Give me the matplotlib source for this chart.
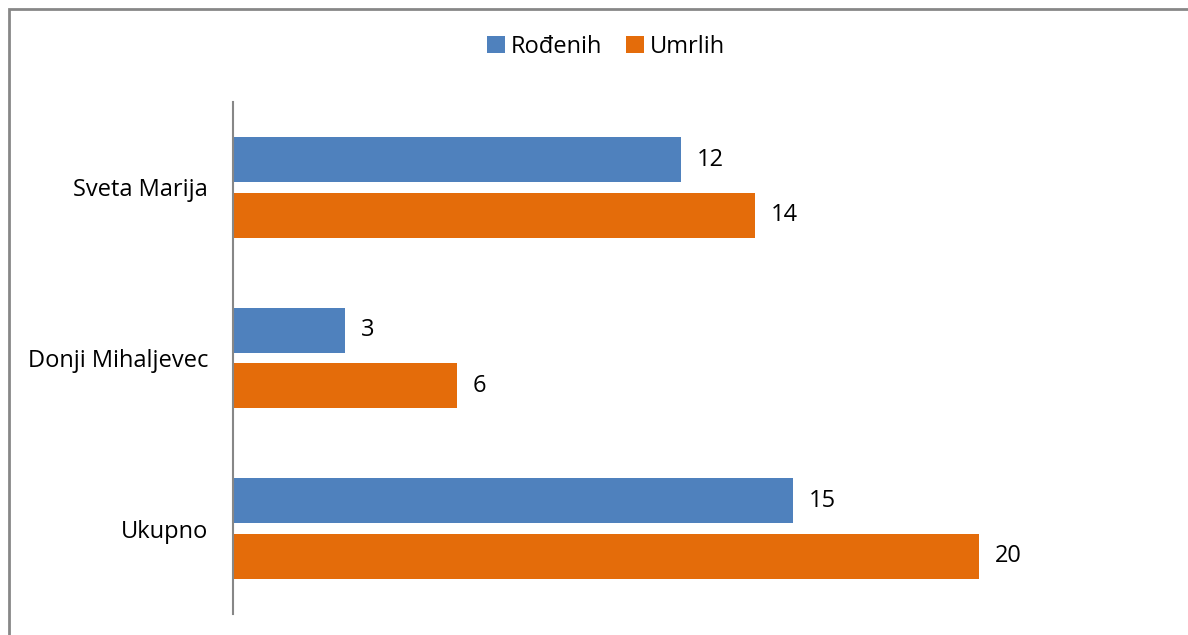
import matplotlib
matplotlib.use("Agg")
import matplotlib.pyplot as plt
from matplotlib.patches import Rectangle
import numpy as np

categories = ["Sveta Marija", "Donji Mihaljevec", "Ukupno"]
series_names = ["Rođenih", "Umrlih"]
rodjenih = [12, 3, 15]
umrlih = [14, 6, 20]

plt.rcParams['font.family'] = ['Open Sans', 'DejaVu Sans']

W, H = 1188, 635
fig = plt.figure(figsize=(W/100, H/100), dpi=100)

# outer border
fig.patches.append(Rectangle((8.5/W, -0.1), 1.2, (H-8.5)/H + 0.1, transform=fig.transFigure,
                             fill=False, edgecolor='#878787', linewidth=2.0))

ax_left, ax_right = 233, 1160
ax_top, ax_bot = 102, 614
ax = fig.add_axes([ax_left/W, 1 - ax_bot/H, (ax_right-ax_left)/W, (ax_bot-ax_top)/H])

scale = (979 - 233) / 20.0
ax.set_xlim(0, (ax_right - ax_left) / scale)
n = len(categories)
ax.set_ylim(n - 0.5, -0.5)

y = np.arange(n)
bh = 0.264
off = 0.1626
blue = '#4F81BD'
orange = '#E46C0A'
b1 = ax.barh(y - off, rodjenih, height=bh, color=blue, label=series_names[0])
b2 = ax.barh(y + off, umrlih, height=bh, color=orange, label=series_names[1])

fs = 17
for yy, v in zip(y - off, rodjenih):
    ax.text(v + 16/scale, yy, str(v), va='center', ha='left', fontsize=fs, color='#000000')
for yy, v in zip(y + off, umrlih):
    ax.text(v + 16/scale, yy, str(v), va='center', ha='left', fontsize=fs, color='#000000')

ax.set_yticks(y)
ax.set_yticklabels(categories, fontsize=fs)
ax.tick_params(axis='y', length=0, pad=18)
ax.set_xticks([])
for s in ['top', 'right', 'bottom']:
    ax.spines[s].set_visible(False)
ax.spines['left'].set_color('#878787')
ax.spines['left'].set_linewidth(1.5)

fig.legend(handles=[b1, b2], labels=series_names, loc='center', bbox_to_anchor=(606/W, 1 - 47/H),
           ncol=2, frameon=False, fontsize=fs, handlelength=0.75, handleheight=0.75,
           handletextpad=0.25, columnspacing=1.0)

fig.savefig("out.png", dpi=100)
